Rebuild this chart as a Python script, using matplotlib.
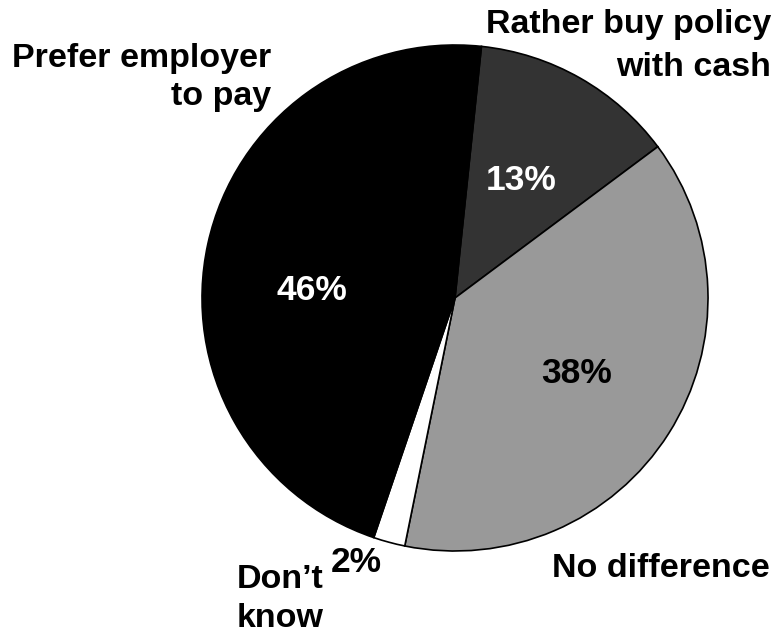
import matplotlib.pyplot as plt

# slices, clockwise from the top
labels = ['Rather buy policy\nwith cash', 'No difference', "Don\u2019t\nknow", 'Prefer employer\nto pay']
shares = [13, 38, 2, 46]
pct_text = ['13%', '38%', '2%', '46%']
colors = ['#333333', '#999999', '#ffffff', '#000000']

W, H = 776, 633
fig = plt.figure(figsize=(W / 100, H / 100), dpi=100)
ax = fig.add_axes([0, 0, 1, 1])

cx, cy, r = 455, H - 298, 253
ax.pie(shares, colors=colors, startangle=84, counterclock=False,
       center=(cx, cy), radius=r, frame=True,
       wedgeprops=dict(edgecolor='black', linewidth=1.2))
ax.set_xlim(0, W)
ax.set_ylim(0, H)
ax.set_aspect('equal')
ax.axis('off')

font = dict(family='Liberation Sans', weight='bold')

# percentages (x centre, baseline in pixels from top)
pct_pos = [(521, 190, 'white'), (577, 383, 'black'), (356, 572, 'black'), (312, 300, 'white')]
for txt, (x, yb, c) in zip(pct_text, pct_pos):
    ax.text(x, H - yb, txt, color=c, ha='center', va='baseline', fontsize=25.5, **font)

# category labels: anchor x, alignment, baseline of each line
lab_pos = [(771, 'right', [33, 76]),
           (770, 'right', [577]),
           (237, 'left', [588, 627]),
           (271, 'right', [67, 105])]
for txt, (x, ha, bases) in zip(labels, lab_pos):
    for line, yb in zip(txt.split('\n'), bases):
        ax.text(x, H - yb, line, ha=ha, va='baseline', fontsize=24.5, **font)

fig.savefig('out.png', dpi=100)
